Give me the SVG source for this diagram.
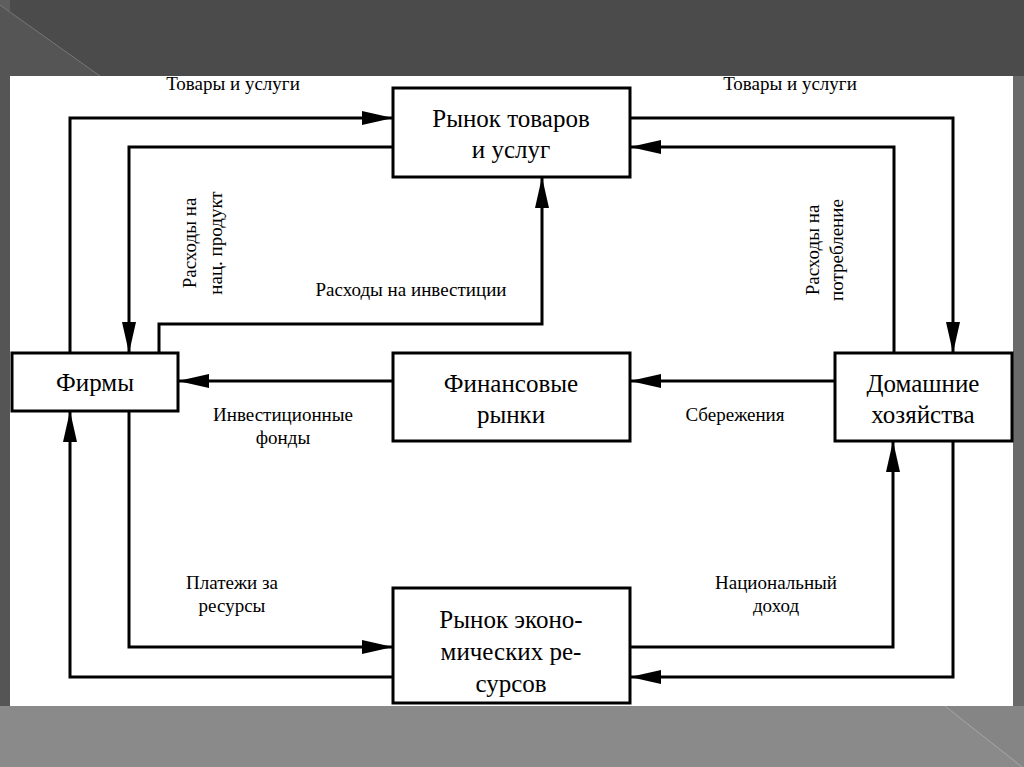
<svg xmlns="http://www.w3.org/2000/svg" width="1024" height="767" viewBox="0 0 1024 767">
<defs>
<marker id="ah" markerUnits="userSpaceOnUse" markerWidth="32" markerHeight="16" refX="31" refY="7" orient="auto">
<path d="M0,0 L31,7 L0,14 Z" fill="#000"/>
</marker>
<style>
.box{fill:#fff;stroke:#000;stroke-width:3}
.arr{fill:none;stroke:#000;stroke-width:3;marker-end:url(#ah)}
text{font-family:'Liberation Serif','Times New Roman',Tinos,'DejaVu Serif',serif;fill:#000;text-anchor:middle}
.bt{font-size:25px}
.lb{font-size:19px}
</style>
</defs>
<rect x="0" y="0" width="1024" height="767" fill="#4b4b4b"/>
<rect x="0" y="0" width="10" height="767" fill="#5e5e5e"/>
<polygon points="0,5 100,76 10,76 10,767 0,767" fill="#555"/>
<line x1="0" y1="5" x2="100" y2="76" stroke="#777" stroke-width="1"/>
<rect x="0" y="706" width="1024" height="61" fill="#8a8a8a"/>
<rect x="1013" y="76" width="11" height="630" fill="#6a6a6a"/>
<polygon points="945,706 1024,767 1024,706" fill="#858585"/>
<line x1="945" y1="706" x2="1022" y2="767" stroke="#a5a5a5" stroke-width="1"/>
<rect x="10" y="76" width="1003" height="630" fill="#fff"/>

<g id="connectors">
<polyline class="arr" points="70,353 70,118 393,118"/>
<polyline class="arr" points="393,147 129,147 129,353"/>
<polyline class="arr" points="630,118 953,118 953,353"/>
<polyline class="arr" points="894,353 894,147 630,147"/>
<polyline class="arr" points="159,353 159,324 542,324 542,177"/>
<polyline class="arr" points="393,381 178,381"/>
<polyline class="arr" points="835,381 630,381"/>
<polyline class="arr" points="129,411 129,647 393,647"/>
<polyline class="arr" points="393,677 70,677 70,411"/>
<polyline class="arr" points="630,647 893,647 893,441"/>
<polyline class="arr" points="953,441 953,677 630,677"/>
</g>

<g id="goods-market">
<rect class="box" x="393" y="88" width="237" height="89"/>
<text class="bt" x="511" y="127">Рынок товаров</text>
<text class="bt" x="511" y="158">и услуг</text>
</g>
<g id="firms">
<rect class="box" x="12" y="353" width="166" height="58"/>
<text class="bt" x="95" y="391">Фирмы</text>
</g>
<g id="financial-markets">
<rect class="box" x="393" y="353" width="237" height="88"/>
<text class="bt" x="511" y="392">Финансовые</text>
<text class="bt" x="511" y="423">рынки</text>
</g>
<g id="households">
<rect class="box" x="835" y="353" width="177" height="88"/>
<text class="bt" x="923" y="392">Домашние</text>
<text class="bt" x="923" y="423">хозяйства</text>
</g>
<g id="resource-market">
<rect class="box" x="393" y="588" width="237" height="115"/>
<text class="bt" x="511" y="628">Рынок эконо-</text>
<text class="bt" x="511" y="660">мических ре-</text>
<text class="bt" x="511" y="692">сурсов</text>
</g>

<g id="labels">
<text class="lb" x="233" y="90">Товары и услуги</text>
<text class="lb" x="790" y="90">Товары и услуги</text>
<text class="lb" transform="translate(196,243) rotate(-90)">Расходы на</text>
<text class="lb" transform="translate(222,243) rotate(-90)">нац. продукт</text>
<text class="lb" x="411" y="296">Расходы на инвестиции</text>
<text class="lb" transform="translate(819,250) rotate(-90)">Расходы на</text>
<text class="lb" transform="translate(843,250) rotate(-90)">потребление</text>
<text class="lb" x="283" y="421">Инвестиционные</text>
<text class="lb" x="283" y="444">фонды</text>
<text class="lb" x="735" y="421">Сбережения</text>
<text class="lb" x="232" y="589">Платежи за</text>
<text class="lb" x="232" y="612">ресурсы</text>
<text class="lb" x="776" y="589">Национальный</text>
<text class="lb" x="776" y="612">доход</text>
</g>
</svg>
